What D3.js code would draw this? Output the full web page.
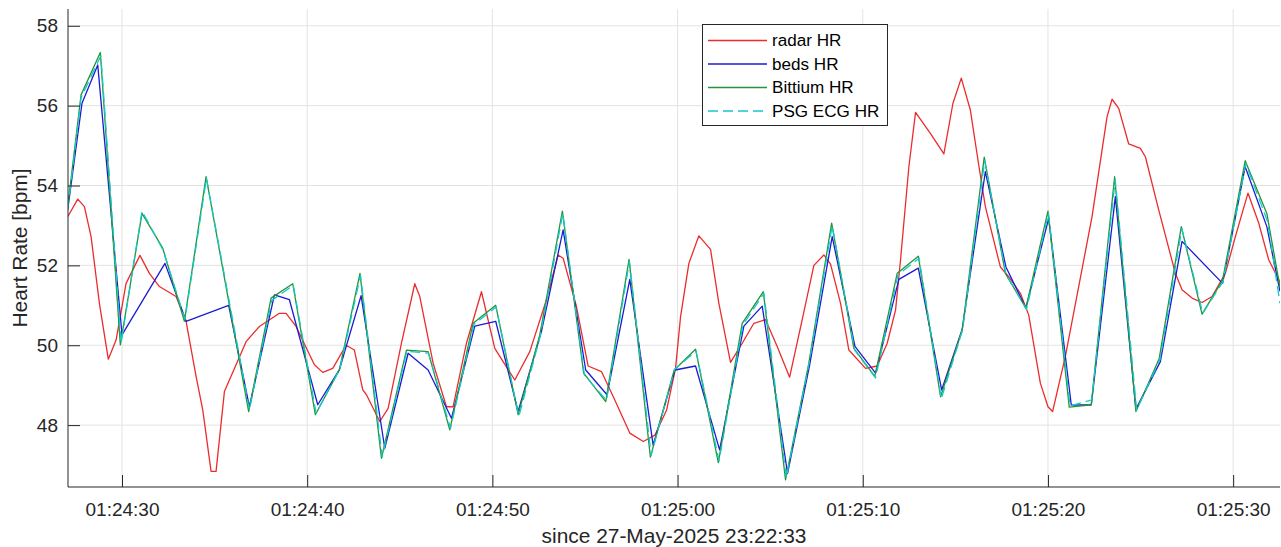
<!DOCTYPE html>
<html>
<head>
<meta charset="utf-8">
<script src="https://cdn.jsdelivr.net/npm/d3@7"></script>
<style>
  body { margin: 0; background: #fff; }
  svg { display: block; font-family: "Liberation Sans", Arial, Helvetica, sans-serif; }
</style>
</head>
<body>
<div id="chart"></div>
<script>
// seconds after 01:24:00, values in bpm
const radarT = [27.07, 27.61, 27.97, 28.33, 28.78, 29.26, 29.68, 30.22, 30.97, 31.48, 32.02, 32.92, 33.46, 34.00, 34.36, 34.81, 35.08, 35.53, 36.70, 37.42, 38.50, 38.86, 39.40, 40.39, 40.84, 41.38, 42.10, 42.55, 43.00,
  43.20, 43.92, 44.37, 45.09, 45.81, 46.08, 46.80, 47.52, 47.88, 48.60, 49.41, 50.13, 51.21, 52.02, 52.92, 53.55, 53.82, 54.54, 55.17, 55.89, 56.61, 57.42, 58.15, 58.78, 59.41,
  59.89, 60.16, 60.61, 61.15, 61.78, 62.23, 62.86, 63.49, 64.12, 64.75, 65.38, 66.05, 66.73, 67.36, 67.90, 68.26, 68.80, 69.25, 70.15, 70.78, 71.32, 71.77, 72.04, 72.49, 72.85, 73.66, 74.38, 74.87, 75.32,
  75.81, 76.26, 76.62, 77.43, 77.88, 78.51, 78.96, 79.59, 80.00, 80.25, 80.94, 81.66, 82.38, 83.19, 83.46, 83.82, 84.36, 84.99, 85.26, 85.98, 86.88, 87.24, 87.78, 88.32, 88.86, 89.58, 90.12, 90.80, 91.38, 91.92, 92.53];
const radarHR = [53.22, 53.66, 53.47, 52.72, 51.05, 49.65, 50.13, 51.55, 52.25, 51.80, 51.47, 51.22, 50.60, 49.22, 48.38, 46.84, 46.84, 48.84, 50.09, 50.47, 50.80, 50.80, 50.47, 49.51, 49.32, 49.42, 50.00, 49.88, 48.88,
  48.76, 48.09, 48.42, 50.05, 51.54, 51.22, 49.55, 48.46, 48.46, 50.05, 51.34, 49.92, 49.13, 49.84, 51.14, 52.26, 52.18, 50.97, 49.48, 49.34, 48.63, 47.80, 47.59, 47.75, 48.38,
  49.42, 50.71, 52.05, 52.74, 52.40, 51.05, 49.57, 50.05, 50.55, 50.64, 49.97, 49.20, 50.64, 52.00, 52.26, 52.03, 51.05, 49.88, 49.42, 49.48, 50.05, 50.88, 52.14, 54.47, 55.83, 55.30, 54.79, 56.06, 56.69,
  55.89, 54.52, 53.47, 51.96, 51.72, 51.30, 50.76, 49.05, 48.46, 48.34, 49.72, 51.47, 53.22, 55.72, 56.16, 55.93, 55.04, 54.93, 54.72, 53.39, 51.80, 51.39, 51.18, 51.07, 51.22, 51.80, 52.72, 53.81, 53.06, 52.14, 51.58];

const bedsT = [27.07, 27.84, 28.69, 30.00, 32.32, 33.46, 35.76, 36.88, 38.23, 39.04, 40.57, 41.74, 42.91,
  44.19, 45.45, 46.53, 47.79, 49.05, 50.18, 51.39, 52.65, 53.82, 55.04, 56.19, 57.42, 58.68,
  59.86, 60.97, 62.27, 63.58, 64.57, 65.94, 67.13, 68.35, 69.58, 70.69, 71.95, 73.00, 74.26, 75.37,
  76.62, 77.73, 78.81, 80.04, 81.26, 82.34, 83.64, 84.75, 86.07, 87.24, 89.43, 90.65, 91.82, 92.53];
const bedsHR = [53.40, 56.06, 57.02, 50.26, 52.05, 50.60, 51.00, 48.46, 51.26, 51.14, 48.51, 49.39, 51.24,
  47.42, 49.80, 49.38, 48.17, 50.48, 50.60, 48.34, 50.35, 52.89, 49.38, 48.76, 51.65, 47.50,
  49.38, 49.48, 47.38, 50.48, 50.98, 46.79, 49.50, 52.72, 49.97, 49.30, 51.65, 51.93, 48.88, 50.40,
  54.35, 51.96, 50.93, 53.18, 48.50, 48.51, 53.72, 48.40, 49.59, 52.60, 51.55, 54.47, 52.97, 51.35];

const bittiumT = [27.07, 27.79, 28.83, 29.91, 31.08, 32.20, 33.37, 34.54, 36.84, 38.05, 39.22, 40.44, 41.74, 42.85,
  44.01, 45.36, 46.53, 47.70, 48.96, 50.18, 51.39, 52.56, 53.78, 54.93, 56.12, 57.38, 58.53,
  59.82, 60.97, 62.20, 63.49, 64.63, 65.83, 67.09, 68.32, 69.52, 70.65, 71.86, 73.00, 74.20, 75.37,
  76.56, 77.70, 78.81, 80.00, 81.15, 82.34, 83.60, 84.75, 86.01, 87.20, 88.32, 89.43, 90.65, 91.82, 92.53];
const bittiumHR = [53.47, 56.27, 57.33, 50.01, 53.30, 52.43, 50.60, 54.22, 48.34, 51.18, 51.54, 48.26, 49.39, 51.80,
  47.17, 49.88, 49.84, 47.88, 50.55, 51.00, 48.26, 50.26, 53.36, 49.30, 48.59, 52.15, 47.20,
  49.38, 49.90, 47.06, 50.55, 51.34, 46.63, 49.55, 53.06, 49.92, 49.22, 51.80, 52.23, 48.71, 50.38,
  54.71, 51.80, 50.93, 53.36, 48.45, 48.51, 54.22, 48.34, 49.67, 52.97, 50.78, 51.63, 54.62, 53.30, 51.45];

const psgT = [27.07, 27.79, 28.86, 29.95, 31.08, 32.22, 33.40, 34.56, 36.88, 38.08, 39.25, 40.48, 41.76, 42.88,
  44.05, 45.38, 46.55, 47.74, 49.00, 50.20, 51.43, 52.58, 53.80, 54.97, 56.16, 57.40, 58.57,
  59.84, 61.00, 62.24, 63.52, 64.66, 65.87, 67.11, 68.35, 69.56, 70.69, 71.90, 73.04, 74.24, 75.40,
  76.58, 77.73, 78.84, 80.03, 81.19, 82.36, 83.63, 84.79, 86.05, 87.23, 88.36, 89.46, 90.68, 91.86, 92.53];
const psgHR = [53.40, 56.20, 57.25, 50.05, 53.36, 52.38, 50.65, 54.18, 48.38, 51.12, 51.50, 48.30, 49.40, 51.75,
  47.20, 49.85, 49.80, 47.92, 50.52, 50.96, 48.22, 50.22, 53.30, 49.25, 48.62, 52.10, 47.24,
  49.40, 49.85, 47.10, 50.50, 51.30, 46.68, 49.58, 53.00, 49.88, 49.18, 51.76, 52.18, 48.66, 50.40,
  54.62, 51.78, 50.90, 53.30, 48.48, 48.63, 54.15, 48.38, 49.64, 52.92, 50.80, 51.60, 54.55, 53.10, 51.05];

const series = [
  { name: "radar HR", t: radarT, v: radarHR, color: "#ec2c2c", dash: null },
  { name: "beds HR", t: bedsT, v: bedsHR, color: "#1b1bd6", dash: null },
  { name: "Bittium HR", t: bittiumT, v: bittiumHR, color: "#259436", dash: null },
  { name: "PSG ECG HR", t: psgT, v: psgHR, color: "#12c9c9", dash: "10,5" }
];

const yTicks = [48, 50, 52, 54, 56, 58];

const W = 1281, H = 547;
const plotL = 68, plotR = 1280, plotT = 9, plotB = 487;
const axisColor = "#262626";

const t0 = new Date(2025, 4, 28, 1, 24, 0);
const toDate = s => new Date(t0.getTime() + s * 1000);

const x = d3.scaleTime().domain([toDate(27.084), toDate(92.53)]).range([plotL, plotR]);
const y = d3.scaleLinear().domain([46.45, 58.42]).range([plotB, plotT]);
const xTicks = x.ticks(d3.timeSecond.every(10));

const svg = d3.select("#chart").append("svg")
  .attr("width", W)
  .attr("height", H);

// grid
svg.append("g").selectAll("line")
  .data(xTicks)
  .enter().append("line")
  .attr("x1", d => x(d)).attr("x2", d => x(d))
  .attr("y1", plotT).attr("y2", plotB)
  .attr("stroke", "#e3e3e3").attr("stroke-width", 1);

svg.append("g").selectAll("line")
  .data(yTicks)
  .enter().append("line")
  .attr("x1", plotL).attr("x2", plotR)
  .attr("y1", d => y(d)).attr("y2", d => y(d))
  .attr("stroke", "#e3e3e3").attr("stroke-width", 1);

// lines
svg.append("clipPath").attr("id", "clip")
  .append("rect").attr("x", plotL).attr("y", plotT)
  .attr("width", plotR - plotL).attr("height", plotB - plotT);

const line = d3.line()
  .x(d => x(toDate(d[0])))
  .y(d => y(d[1]));

series.forEach(s => {
  svg.append("path")
    .datum(s.t.map((t, i) => [t, s.v[i]]))
    .attr("clip-path", "url(#clip)")
    .attr("fill", "none")
    .attr("stroke", s.color)
    .attr("stroke-width", 1.3)
    .attr("stroke-dasharray", s.dash)
    .attr("stroke-linejoin", "round")
    .attr("d", line);
});

// axes
const xAxis = svg.append("g")
  .attr("transform", `translate(0,${plotB})`)
  .call(d3.axisBottom(x)
    .tickValues(xTicks)
    .tickFormat(d3.timeFormat("%H:%M:%S"))
    .tickSizeInner(-12).tickSizeOuter(0).tickPadding(16));

const yAxis = svg.append("g")
  .attr("transform", `translate(${plotL},0)`)
  .call(d3.axisLeft(y)
    .tickValues(yTicks)
    .tickSizeInner(-12).tickSizeOuter(0).tickPadding(10));

[xAxis, yAxis].forEach(g => {
  g.select(".domain").attr("stroke", axisColor);
  g.selectAll(".tick line").attr("stroke", axisColor);
  g.selectAll(".tick text")
    .attr("fill", axisColor)
    .style("font-size", "19px")
    .style("font-family", "'Liberation Sans', Arial, sans-serif");
});
// axis lines span the whole plot box
yAxis.select(".domain").attr("d", `M0,${plotT}V${plotB}`);
xAxis.select(".domain").attr("d", `M${plotL},0H${plotR}`);

// axis labels
svg.append("text")
  .attr("x", (plotL + plotR) / 2)
  .attr("y", 543)
  .attr("text-anchor", "middle")
  .attr("fill", axisColor)
  .style("font-size", "20.9px")
  .text("since 27-May-2025 23:22:33");

svg.append("text")
  .attr("transform", "rotate(-90)")
  .attr("x", -(plotT + plotB) / 2)
  .attr("y", 27)
  .attr("text-anchor", "middle")
  .attr("fill", axisColor)
  .style("font-size", "20.9px")
  .text("Heart Rate [bpm]");

// legend
const legend = svg.append("g");
legend.append("rect")
  .attr("x", 702.5).attr("y", 24.5)
  .attr("width", 185).attr("height", 101)
  .attr("fill", "#fff")
  .attr("stroke", axisColor).attr("stroke-width", 1);

const rowY = [40.5, 64, 87.5, 111];
series.forEach((s, i) => {
  legend.append("line")
    .attr("x1", 708).attr("x2", 767)
    .attr("y1", rowY[i]).attr("y2", rowY[i])
    .attr("stroke", s.color)
    .attr("stroke-width", 1.3)
    .attr("stroke-dasharray", s.dash);
  legend.append("text")
    .attr("x", 772)
    .attr("y", rowY[i])
    .attr("dy", "0.35em")
    .attr("fill", "#000")
    .style("font-size", "17.1px")
    .text(s.name);
});
</script>
</body>
</html>
